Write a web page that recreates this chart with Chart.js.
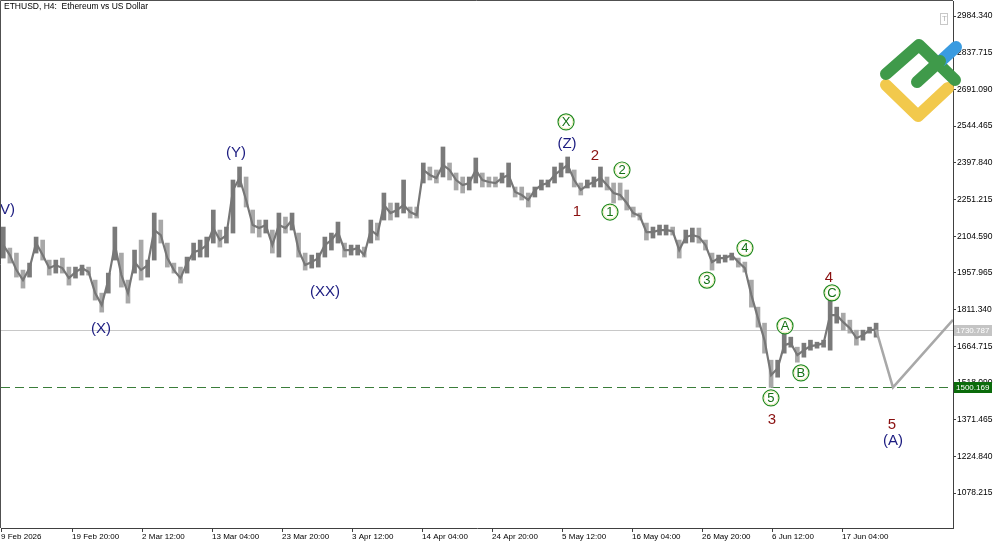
<!DOCTYPE html>
<html>
<head>
<meta charset="utf-8">
<script src="https://cdn.jsdelivr.net/npm/chart.js@4.4.1/dist/chart.umd.min.js"></script>
<style>
  html, body { margin: 0; padding: 0; background: #fff; overflow: hidden; }
  #wrap { width: 1000px; height: 545px; position: relative; }
</style>
</head>
<body>
<div id="wrap"><canvas id="ethchart" width="1000" height="545"></canvas></div>
<script>
// ETHUSD H4, one sample per day (x = days since 9 Feb 2026 00:00)
const dayHighs = [
  2141, 2057, 2037, 1969, 1997, 2101, 2089, 2009, 2009, 2017,
  1981, 1981, 1989, 1981, 1929, 1877, 1957, 2141, 2037, 1929,
  2049, 2089, 2009, 2197, 2169, 2077, 1997, 1981, 2021, 2077,
  2089, 2101, 2209, 2129, 2141, 2329, 2381, 2341, 2209, 2169,
  2169, 2129, 2197, 2181, 2197, 2117, 2037, 2029, 2037, 2101,
  2117, 2161, 2077, 2069, 2069, 2061, 2169, 2157, 2277, 2237,
  2237, 2329, 2221, 2221, 2397, 2381, 2369, 2461, 2397, 2357,
  2341, 2341, 2417, 2357, 2341, 2341, 2357, 2397, 2301, 2301,
  2277, 2301, 2329, 2329, 2381, 2397, 2421, 2369, 2317, 2329,
  2341, 2381, 2341, 2317, 2317, 2289, 2221, 2197, 2157, 2141,
  2149, 2149, 2141, 2089, 2129, 2137, 2137, 2089, 2037, 2029,
  2029, 2037, 2017, 2001, 1929, 1821, 1757, 1609, 1609, 1717,
  1701, 1661, 1677, 1689, 1681, 1689, 1849, 1821, 1797, 1769,
  1729, 1729, 1741, 1757
];
const dayLows = [
  2017, 1997, 1941, 1897, 1941, 2037, 2009, 1949, 1957, 1957,
  1909, 1937, 1949, 1949, 1849, 1801, 1877, 2009, 1901, 1837,
  1957, 1929, 1941, 2009, 2077, 1981, 1957, 1917, 1957, 2009,
  2021, 2021, 2077, 2061, 2077, 2117, 2301, 2221, 2117, 2101,
  2117, 2037, 2021, 2117, 2129, 2021, 1969, 1977, 1981, 2021,
  2049, 2077, 2021, 2029, 2029, 2021, 2077, 2089, 2169, 2169,
  2181, 2197, 2177, 2177, 2317, 2329, 2317, 2341, 2329, 2289,
  2277, 2289, 2317, 2301, 2301, 2301, 2317, 2301, 2261, 2249,
  2221, 2261, 2289, 2301, 2317, 2341, 2357, 2301, 2269, 2297,
  2301, 2301, 2289, 2237, 2249, 2209, 2181, 2169, 2089, 2097,
  2109, 2109, 2109, 2017, 2077, 2081, 2077, 2049, 1969, 1997,
  2001, 2009, 1981, 1961, 1821, 1741, 1637, 1500.169, 1541, 1637,
  1661, 1601, 1621, 1649, 1657, 1661, 1649, 1757, 1729, 1717,
  1669, 1689, 1717, 1701
];
const dayCloses = [
  2069, 2029, 1969, 1929, 1977, 2077, 2029, 1977, 1989, 1977,
  1937, 1961, 1977, 1961, 1877, 1829, 1929, 2069, 1949, 1877,
  2001, 1969, 1989, 2129, 2109, 2017, 1969, 1937, 1997, 2041,
  2049, 2069, 2137, 2089, 2109, 2289, 2337, 2249, 2149, 2137,
  2149, 2069, 2149, 2137, 2169, 2049, 1989, 2001, 2017, 2069,
  2089, 2121, 2049, 2049, 2057, 2029, 2129, 2109, 2229, 2197,
  2209, 2229, 2201, 2189, 2369, 2349, 2337, 2389, 2369, 2329,
  2309, 2317, 2369, 2329, 2321, 2317, 2337, 2349, 2281, 2269,
  2249, 2289, 2309, 2317, 2349, 2369, 2389, 2329, 2289, 2309,
  2321, 2337, 2309, 2277, 2269, 2237, 2197, 2185, 2121, 2121,
  2129, 2129, 2125, 2049, 2101, 2109, 2101, 2069, 2001, 2017,
  2017, 2029, 2001, 1977, 1869, 1777, 1689, 1549, 1577, 1669,
  1677, 1629, 1649, 1665, 1669, 1677, 1789, 1789, 1761, 1737,
  1697, 1709, 1729, 1730.787
];

// projected path (grey line) after the last bar
const projDays = [133.35, 135.92, 145.07];
const projPrices = [1730.787, 1500.169, 1770];

// horizontal levels: last price and target
const levelPrices = [1730.787, 1500.169];
const levelTags = ['1730.787', '1500.169'];

// axes
const tickDays = [0, 10.8333, 21.5, 32.1667, 42.8333, 53.5, 64.1667, 74.8333, 85.5, 96.1667, 106.8333, 117.5, 128.1667];
const tickLabels = ['9 Feb 2026', '19 Feb 20:00', '2 Mar 12:00', '13 Mar 04:00', '23 Mar 20:00', '3 Apr 12:00',
  '14 Apr 04:00', '24 Apr 20:00', '5 May 12:00', '16 May 04:00', '26 May 20:00', '6 Jun 12:00', '17 Jun 04:00'];
const priceTicks = ['2984.340', '2837.715', '2691.090', '2544.465', '2397.840', '2251.215', '2104.590',
  '1957.965', '1811.340', '1664.715', '1518.090', '1371.465', '1224.840', '1078.215'];

// Elliott wave marks
const waveLabels = ['(V)', '(X)', '(Y)', '(XX)', '(Z)', 'X', '2', '1', '2', '1', '3', '4', '5', '3', 'A', 'B', '4', 'C', '5', '(A)'];
const waveDays = [0.61, 15.24, 35.81, 49.37, 86.25, 86.10, 90.51, 87.77, 94.63, 92.80, 107.58, 113.37, 117.33, 117.49, 119.47, 121.90, 126.17, 126.63, 135.77, 135.92];
const wavePrices = [2209, 1734, 2437, 1882, 2473, 2561, 2425, 2201, 2369, 2201, 1929, 2057, 1458, 1370, 1746, 1558, 1937, 1878, 1350, 1286];
const waveKinds = ['navy', 'navy', 'navy', 'navy', 'navy', 'ring', 'red', 'red', 'ring', 'ring', 'ring', 'ring', 'ring', 'red', 'ring', 'ring', 'red', 'ring', 'red', 'navy'];

const smallFont = '"Liberation Sans", Arial, sans-serif';
const labelFont = '"Liberation Sans", Arial, sans-serif';

const barPoints = dayHighs.map((h, i) => ({ x: i + 0.35, y: [dayLows[i], h] }));
const closePoints = dayCloses.map((c, i) => ({ x: i + 0.35, y: c }));
const barColors = dayCloses.map((c, i) => (i > 0 && c < dayCloses[i - 1]) ? '#a8a8a8' : '#7a7a7a');
const projPoints = projDays.map((d, i) => ({ x: d, y: projPrices[i] }));

const levelsPlugin = {
  id: 'levels',
  beforeDatasetsDraw(chart) {
    const { ctx, chartArea, scales: { y } } = chart;
    ctx.save();
    let py = Math.round(y.getPixelForValue(levelPrices[0])) + 0.5;
    ctx.strokeStyle = '#c8c8c8';
    ctx.lineWidth = 1;
    ctx.beginPath(); ctx.moveTo(chartArea.left, py); ctx.lineTo(chartArea.right, py); ctx.stroke();
    py = Math.round(y.getPixelForValue(levelPrices[1])) + 0.5;
    ctx.strokeStyle = '#3a7d3a';
    ctx.setLineDash([9, 5]);
    ctx.beginPath(); ctx.moveTo(chartArea.left, py); ctx.lineTo(chartArea.right, py); ctx.stroke();
    ctx.restore();
  }
};

const wavePlugin = {
  id: 'waves',
  afterDatasetsDraw(chart) {
    const { ctx, scales: { x, y } } = chart;
    ctx.save();
    ctx.textAlign = 'center';
    ctx.textBaseline = 'middle';
    waveLabels.forEach((t, i) => {
      const px = x.getPixelForValue(waveDays[i]);
      const py = y.getPixelForValue(wavePrices[i]);
      if (waveKinds[i] === 'ring') {
        ctx.beginPath(); ctx.arc(px, py, 8, 0, Math.PI * 2);
        ctx.fillStyle = '#fff'; ctx.fill();
        ctx.lineWidth = 1.2; ctx.strokeStyle = '#208a20'; ctx.stroke();
        ctx.beginPath(); ctx.arc(px, py, 6.8, 0, Math.PI * 2);
        ctx.lineWidth = 0.8; ctx.strokeStyle = '#e9e9a8'; ctx.stroke();
        ctx.font = '13px ' + labelFont;
        ctx.fillStyle = '#157015';
        ctx.fillText(t, px, py + 0.5);
      } else {
        ctx.font = '15px ' + labelFont;
        ctx.fillStyle = waveKinds[i] === 'navy' ? '#1c1c80' : '#8a1010';
        ctx.fillText(t, px, py);
      }
    });
    ctx.restore();
  }
};

const decorPlugin = {
  id: 'decor',
  afterDraw(chart) {
    const { ctx, chartArea, scales: { y } } = chart;
    ctx.save();
    // frame left/top
    ctx.strokeStyle = '#505050';
    ctx.lineWidth = 1;
    ctx.beginPath();
    ctx.moveTo(chartArea.left - 0.5, chartArea.bottom);
    ctx.lineTo(chartArea.left - 0.5, 0.5);
    ctx.lineTo(chartArea.right, 0.5);
    ctx.stroke();

    // title
    ctx.font = '8.5px ' + smallFont;
    ctx.fillStyle = '#000';
    ctx.textBaseline = 'middle';
    ctx.textAlign = 'left';
    ctx.fillText('ETHUSD, H4:  Ethereum vs US Dollar', 4, 7);

    // price tags on the axis
    const tagFill = ['#c4c4c4', '#0b6b0b'];
    ctx.font = '8px ' + smallFont;
    levelPrices.forEach((p, i) => {
      const py = Math.round(y.getPixelForValue(p));
      ctx.fillStyle = tagFill[i];
      ctx.fillRect(chartArea.right + 1, py - 5, 38, 11);
      ctx.fillStyle = '#fff';
      ctx.fillText(levelTags[i], chartArea.right + 3, py + 0.5);
    });

    // "T" box
    ctx.strokeStyle = '#c8c8c8';
    ctx.strokeRect(940.5, 13.5, 7, 11);
    ctx.fillStyle = '#b0b0b0';
    ctx.fillText('T', 942, 19);

    // logo
    ctx.lineCap = 'round';
    ctx.lineJoin = 'round';
    ctx.lineWidth = 12;
    ctx.strokeStyle = '#f2c94c';
    ctx.beginPath(); ctx.moveTo(886, 85); ctx.lineTo(918, 116); ctx.lineTo(948, 88); ctx.stroke();
    ctx.strokeStyle = '#3f9a4a';
    ctx.beginPath(); ctx.moveTo(886, 74); ctx.lineTo(919, 45); ctx.lineTo(955, 80); ctx.stroke();
    ctx.strokeStyle = '#3a9be0';
    ctx.beginPath(); ctx.moveTo(942, 60); ctx.lineTo(956, 47); ctx.stroke();
    ctx.strokeStyle = '#3f9a4a';
    ctx.beginPath(); ctx.moveTo(917, 82); ctx.lineTo(940, 61); ctx.stroke();
    ctx.restore();
  }
};

const ctx = document.getElementById('ethchart').getContext('2d');
new Chart(ctx, {
  type: 'bar',
  data: {
    datasets: [
      {
        type: 'line',
        data: projPoints,
        borderColor: '#a8a8a8',
        borderWidth: 2.5,
        pointRadius: 0,
        tension: 0,
        order: 0
      },
      {
        type: 'line',
        data: closePoints,
        borderColor: '#777777',
        borderWidth: 2.2,
        pointRadius: 0,
        tension: 0,
        order: 1
      },
      {
        type: 'bar',
        data: barPoints,
        backgroundColor: barColors,
        borderWidth: 0,
        barThickness: 4,
        grouped: false,
        order: 2
      }
    ]
  },
  options: {
    responsive: false,
    animation: false,
    events: [],
    layout: { padding: { top: 1, left: 1, right: 0, bottom: 0 } },
    plugins: { legend: { display: false }, tooltip: { enabled: false } },
    scales: {
      x: {
        type: 'linear',
        offset: false,
        min: 0,
        max: 145.07,
        afterBuildTicks: (s) => { s.ticks = tickDays.map(v => ({ value: v })); },
        afterFit: (s) => { s.height = 17; s.paddingLeft = 0; s.paddingRight = 0; },
        grid: { offset: false, drawOnChartArea: false, drawTicks: true, tickLength: 4, tickColor: '#404040' },
        border: { display: true, color: '#404040' },
        ticks: {
          autoSkip: false,
          maxRotation: 0,
          align: 'start',
          padding: 0,
          color: '#000',
          font: { family: smallFont, size: 8 },
          callback: (v, i) => tickLabels[i]
        }
      },
      y: {
        type: 'linear',
        position: 'right',
        min: 938.4,
        max: 3044.3,
        afterBuildTicks: (s) => { s.ticks = priceTicks.map(t => ({ value: parseFloat(t) })); },
        afterFit: (s) => { s.width = 47; s.paddingTop = 0; s.paddingBottom = 0; },
        grid: { drawOnChartArea: false, drawTicks: true, tickLength: 3, tickColor: '#404040' },
        border: { display: true, color: '#404040' },
        ticks: {
          padding: 1,
          color: '#000',
          font: { family: smallFont, size: 8.5 },
          callback: (v, i) => priceTicks[i]
        }
      }
    }
  },
  plugins: [levelsPlugin, wavePlugin, decorPlugin]
});
</script>
</body>
</html>
